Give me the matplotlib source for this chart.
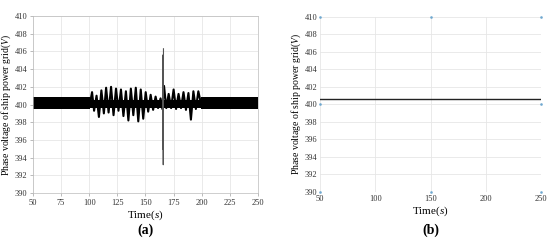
import matplotlib
matplotlib.use("Agg")
import matplotlib.pyplot as plt

plt.rcParams['font.family'] = ['Liberation Serif', 'DejaVu Serif']
plt.rcParams['mathtext.fontset'] = 'custom'
plt.rcParams['mathtext.it'] = 'Liberation Serif:italic'
plt.rcParams['mathtext.rm'] = 'Liberation Serif'

# (a) steady ripple band before and after the disturbance
band_t1 = [50, 100.5]
band_t2 = [199.5, 250]
band_lo = 399.55
band_hi = 400.85

# (a) body of the disturbed section
body_t = [100.5, 199.5]
body_lo = 399.6
body_hi = 400.5

# (a) turning points of the disturbed section
osc_t = [100.5, 102.5, 104.3, 106.5, 108.6, 110.8, 113.0, 115.0, 117.2, 119.4,
         121.6, 123.8, 126.0, 128.2, 130.4, 132.6, 134.8, 137.0, 139.2, 141.4,
         143.6, 145.8, 148.0, 150.2, 152.4, 154.6, 156.8, 159.0, 161.2, 163.4,
         165.0, 166.5, 168.5, 170.6, 172.8, 175.0, 177.2, 179.4, 181.6, 183.8,
         186.0, 188.2, 190.4, 192.6, 194.8, 197.0, 199.5]
osc_v = [400.0, 401.4, 399.3, 401.0, 398.6, 401.6, 399.0, 401.9, 399.1, 402.0,
         398.8, 401.8, 399.3, 401.7, 398.7, 401.5, 398.2, 401.8, 398.8, 401.9,
         398.1, 401.7, 398.4, 401.4, 399.2, 401.1, 399.4, 400.9, 399.6, 400.7,
         399.5, 402.1, 399.6, 401.2, 399.6, 401.7, 399.5, 401.2, 399.6, 401.4,
         399.4, 401.3, 398.3, 401.5, 399.5, 401.5, 400.0]

# (a) transient spike
spike_t = [165.3, 165.5, 165.8, 166.0]
spike_v = [395.0, 405.6, 393.2, 406.3]

# (b) output after compensation
flat_t = [50, 250]
flat_v = [400.6, 400.6]

ylabel = r'Phase voltage of ship power grid($\mathit{V}$)'
xlabel = r'Time($\mathit{s}$)'
ylims = (390, 410)
yticks = list(range(390, 411, 2))

fig = plt.figure(figsize=(5.5, 2.46), dpi=100)
ax1 = fig.add_axes([0.060, 0.215, 0.409, 0.720])
ax2 = fig.add_axes([0.582, 0.220, 0.402, 0.711])

for ax in (ax1, ax2):
    ax.set_xlim(50, 250)
    ax.set_ylim(*ylims)
    ax.set_yticks(yticks)
    ax.grid(True, color='#e6e6e6', linewidth=0.6)
    ax.set_axisbelow(True)
    ax.tick_params(labelsize=6, length=2, width=0.4, color='#888888', pad=2,
                   labelcolor='#333333')
    ax.set_ylabel(ylabel, fontsize=7, labelpad=1)
    ax.set_xlabel(xlabel, fontsize=8, labelpad=1)

# panel (a)
ax1.set_xticks(range(50, 251, 25))
ax1.fill_between(band_t1, band_lo, band_hi, color='black', linewidth=0)
ax1.fill_between(band_t2, band_lo, band_hi, color='black', linewidth=0)
ax1.fill_between(body_t, body_lo, body_hi, color='black', linewidth=0)
ax1.plot(osc_t, osc_v, color='black', linewidth=1.5)
ax1.plot(spike_t, spike_v, color='#555555', linewidth=0.8)
for s in ax1.spines.values():
    s.set_color('#bbbbbb')
    s.set_linewidth(0.5)

# panel (b)
ax2.set_xticks(range(50, 251, 50))
ax2.plot(flat_t, flat_v, color='#222222', linewidth=1.0)
for s in ax2.spines.values():
    s.set_visible(False)
ax2.tick_params(length=0)
ax2.plot([50, 150, 250, 50, 150, 250, 50, 250], [410, 410, 410, 390, 390, 390, 400, 400],
         linestyle='none', marker='s', markersize=0.8, color='#6fa8d0', clip_on=False)

fig.text(0.2645, 0.065, '(a)', ha='center', va='center', fontsize=10, fontweight='bold')
fig.text(0.783, 0.065, '(b)', ha='center', va='center', fontsize=10, fontweight='bold')

fig.savefig('out.png', dpi=100)
